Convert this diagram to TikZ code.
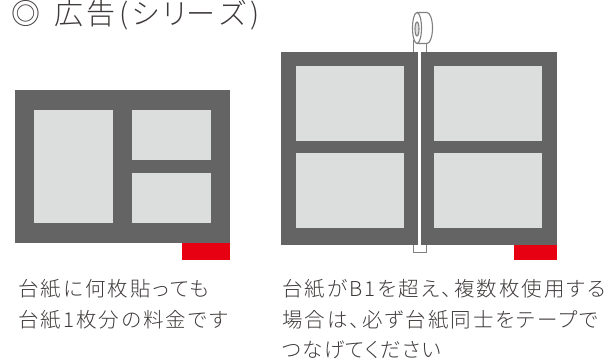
\documentclass[tikz,border=0pt]{standalone}
\usepackage{fontspec}
\setmainfont{Noto Sans CJK JP}[UprightFont=* Light]
\newfontfamily\captionfont{Noto Sans CJK JP}[UprightFont=* Light,RawFeature=+palt,LetterSpace=10]
\definecolor{boardColor}{RGB}{100,100,100}
\definecolor{panelColor}{RGB}{220,221,221}
\definecolor{markColor}{RGB}{230,0,18}
\definecolor{tapeColor}{RGB}{128,128,128}
\definecolor{textColor}{RGB}{62,58,57}
\tikzset{
  board/.style={fill=boardColor},
  panel/.style={fill=panelColor},
  redmark/.style={fill=markColor},
  tapeline/.style={draw=tapeColor,line width=1.1pt},
  caption/.style={anchor=base west,inner sep=0pt,text=textColor,font=\captionfont\fontsize{20.5}{20.5}\selectfont},
  heading/.style={anchor=base west,inner sep=0pt,text=textColor,font=\fontsize{29}{29}\selectfont}
}

\begin{document}
\begin{tikzpicture}[x=1pt,y=-1pt]
  \useasboundingbox (0,0) rectangle (611,363);
  % Title
  \node[heading] (title) at (11,25) {◎ \kern8pt 広\kern3pt 告\kern4pt(\kern3pt シリ\kern-3pt ー\kern3pt ズ\kern3pt)};
  % Single board
  \path[board] (15,90) rectangle (230,243);
  \path[panel] (34,110) rectangle (113,223);
  \path[panel] (132,110) rectangle (211,160);
  \path[panel] (132,173) rectangle (211,223);
  \path[redmark] (182,243) rectangle (230,260);
  % Tape behind the boards
  \draw[tapeline,fill=white] (413.5,40) -- (413.5,252.7) -- (426.5,252.7) -- (426.5,40);
  % Two boards
  \path[board] (281,52) rectangle (418.2,245);
  \path[board] (420.5,52) rectangle (557,245);
  \path[panel] (296,66) rectangle (404,141);
  \path[panel] (296,153) rectangle (404,228);
  \path[panel] (434,66) rectangle (542,141);
  \path[panel] (434,153) rectangle (542,228);
  \path[redmark] (514,245) rectangle (557,260);
  % Tape roll
  \draw[tapeline,fill=white] (417,12.5) -- (427,12.5) arc[start angle=-90,end angle=90,x radius=5.5,y radius=15.5] -- (417,43.5);
  \draw[tapeline,fill=white] (417,28) ellipse[x radius=4.5,y radius=15.5];
  \draw[tapeline,fill=panelColor] (417,29) ellipse[x radius=2,y radius=7];
  % Captions
  \node[caption] (leftA) at (18,296.5) {台紙に何枚貼っても};
  \node[caption] (leftB) at (18,328) {台紙1枚分の料金です};
  \node[caption] (rightA) at (282,296.5) {台紙がB1を超え、複数枚使用する};
  \node[caption] (rightB) at (282,328) {場合は、必ず台紙同士をテープで};
  \node[caption] (rightC) at (282,358) {\addfontfeature{LetterSpace=6}つなげてください};
\end{tikzpicture}
\end{document}
